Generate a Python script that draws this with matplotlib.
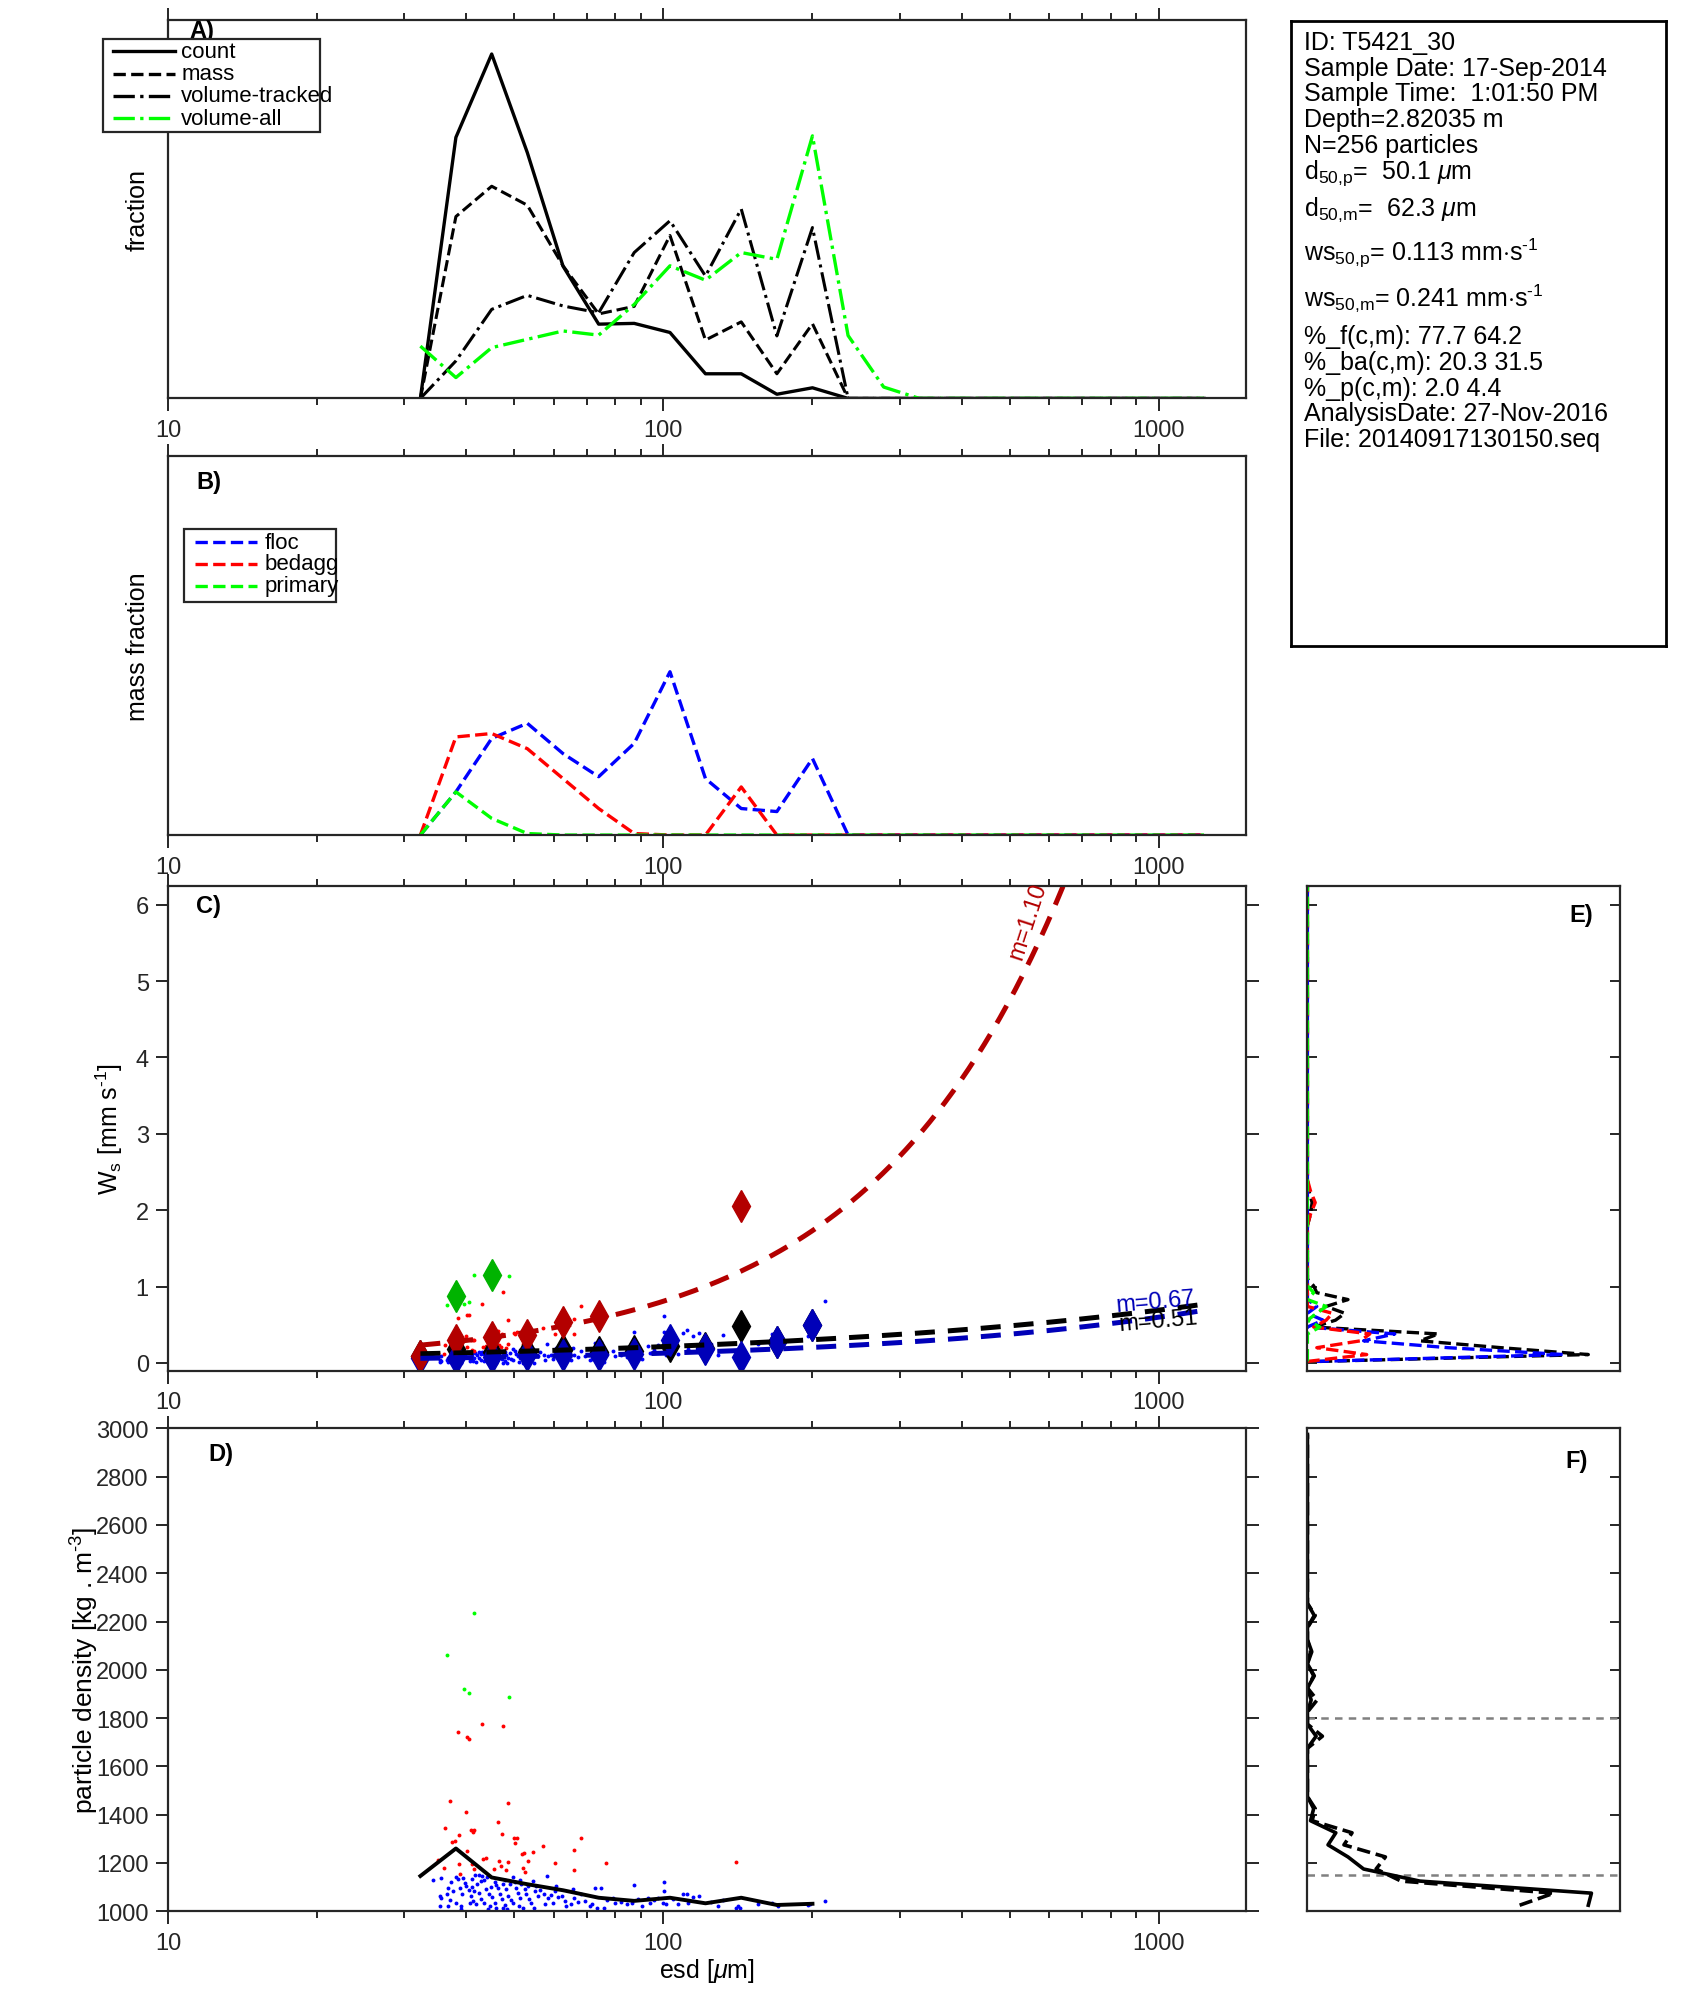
import numpy as np
import matplotlib
matplotlib.use('Agg')
import matplotlib.pyplot as plt
from matplotlib.ticker import FixedLocator, LogLocator, NullFormatter, FuncFormatter

plt.rcParams['font.family'] = ['Liberation Sans', 'DejaVu Sans']
plt.rcParams['font.size'] = 17
plt.rcParams['mathtext.fontset'] = 'custom'
plt.rcParams['mathtext.rm'] = 'Liberation Sans'
plt.rcParams['mathtext.it'] = 'Liberation Sans:italic'
plt.rcParams['mathtext.bf'] = 'Liberation Sans:bold'

# ---- size bins (esd, um) ----
esd_bins = [32.3, 38.1, 45.0, 53.1, 62.7, 74.0, 87.3, 103.1, 121.6, 143.6, 169.5, 200.0,
            236.0, 278.5, 328.6, 387.8, 457.6, 540.0, 637.2, 751.9, 887.2, 1046.9, 1235.3]

# panel A: fractions
frac_count = [0, 0.689, 0.909, 0.649, 0.349, 0.196, 0.198, 0.174, 0.065, 0.065, 0.011, 0.028,
              0, 0, 0, 0, 0, 0, 0, 0, 0, 0, 0]
frac_mass = [0, 0.48, 0.56, 0.51, 0.35, 0.223, 0.243, 0.43, 0.154, 0.202, 0.065, 0.197,
             0, 0, 0, 0, 0, 0, 0, 0, 0, 0, 0]
frac_vol_tracked = [0, 0.099, 0.235, 0.272, 0.244, 0.226, 0.385, 0.469, 0.323, 0.5, 0.165, 0.451,
                    0, 0, 0, 0, 0, 0, 0, 0, 0, 0, 0]
frac_vol_all = [0.138, 0.055, 0.134, 0.156, 0.178, 0.167, 0.248, 0.35, 0.312, 0.385, 0.367, 0.693,
                0.166, 0.03, 0, 0, 0, 0, 0, 0, 0, 0, 0]

# panel B: mass fraction per class
mf_floc = [0, 0.114, 0.255, 0.295, 0.215, 0.154, 0.242, 0.431, 0.149, 0.07, 0.062, 0.202,
           0, 0, 0, 0, 0, 0, 0, 0, 0, 0, 0]
mf_bedagg = [0, 0.259, 0.268, 0.228, 0.149, 0.07, 0.004, 0, 0, 0.127, 0, 0,
             0, 0, 0, 0, 0, 0, 0, 0, 0, 0, 0]
mf_primary = [0, 0.114, 0.044, 0.004, 0, 0, 0, 0, 0, 0, 0, 0,
              0, 0, 0, 0, 0, 0, 0, 0, 0, 0, 0]

# panel C: bin medians of settling velocity (mm/s), first 12 bins
nan = np.nan
ws_med_all = [0.09, 0.18, 0.14, 0.14, 0.17, 0.14, 0.15, 0.22, 0.20, 0.48, 0.27, 0.50]
ws_med_floc = [0.07, 0.07, 0.08, 0.10, 0.10, 0.11, 0.12, 0.30, 0.18, 0.08, 0.27, 0.50]
ws_med_bedagg = [0.09, 0.30, 0.34, 0.37, 0.53, 0.62, nan, nan, nan, 2.06, nan, nan]
ws_med_primary = [nan, 0.88, 1.15, nan, nan, nan, nan, nan, nan, nan, nan, nan]

# power-law fits ws = a * d^m
fit_names = ['bedagg', 'all', 'floc']
fit_a = [0.0051, 0.0204, 0.00585]
fit_m = [1.10, 0.51, 0.67]
fit_dmin, fit_dmax = 32.3, 1210.0

# individual particles: esd (um) and density (kg m-3)
primary_esd = [41.4, 36.5, 39.6, 40.4, 48.8]
primary_rho = [2236, 2063, 1920, 1903, 1886]

bedagg_esd = [38.5, 40.2, 40.4, 43.1, 47.5, 37.0, 48.6, 39.9, 46.4, 36.3, 40.9, 41.3, 41.5, 38.7,
              47.1, 49.9, 50.6, 50.2, 68.3, 37.9, 37.5, 57.1, 66.0, 40.2, 54.6, 52.2, 51.9, 43.2,
              43.8, 46.5, 48.5, 60.5, 76.7, 35.1, 38.6, 41.0, 53.3, 46.9, 48.0, 45.4, 36.1, 52.1,
              52.6, 66.0, 38.9, 41.5, 140.4]
bedagg_rho = [1743, 1720, 1715, 1777, 1766, 1455, 1447, 1412, 1371, 1343, 1336, 1329, 1336, 1317,
              1322, 1302, 1302, 1284, 1303, 1292, 1285, 1271, 1254, 1250, 1246, 1243, 1236, 1216,
              1219, 1209, 1202, 1200, 1200, 1212, 1195, 1195, 1209, 1188, 1171, 1177, 1178, 1181,
              1163, 1171, 1155, 1173, 1206]

floc_esd = [34.3, 35.6, 38.1, 38.4, 39.4, 41.1, 41.7, 42.5, 43.1, 43.5, 49.8, 51.4, 54.6, 58.3,
            60.8, 45.6, 47.4, 72.9, 74.8, 87.1, 100.3, 100.3, 109.6, 111.8, 114.9, 211.9,
            36.7, 36.5, 35.4, 35.5, 37.3, 37.6, 38.8, 39.2, 39.7, 40.4, 41.1, 40.9, 42.1, 42.5,
            42.9, 43.9, 44.4, 44.9, 46.4, 46.7, 47.1, 48.2, 48.6, 48.9, 50.5, 50.9, 51.3, 51.6,
            52.5, 52.9, 53.3, 55.0, 55.8, 55.4, 57.5, 58.5, 59.4, 61.2, 62.4, 63.2, 65.8, 66.1,
            67.3, 69.4, 71.6, 71.0, 79.1, 79.9, 84.4, 86.3, 89.0, 90.6, 93.1, 93.8, 97.5, 99.8,
            101.4, 107.1, 112.2, 128.9, 141.4, 155.2, 197.4,
            35.4, 36.8, 38.2, 39.1, 40.6, 41.9, 43.5, 44.6, 45.6, 47.9, 49.8, 51.0, 54.1, 57.6,
            59.8, 63.6, 65.2, 45.9, 47.4, 52.0, 73.5, 75.7, 140.0, 143.0, 196.0,
            37.0, 39.9, 41.5, 42.8, 44.0, 45.1, 46.0, 47.8, 49.3, 50.2, 53.6, 56.4, 44.2, 39.0,
            41.3, 48.3, 54.9, 60.3, 68.2, 76.8, 82.2, 95.5, 104.6, 118.0, 124.5, 165.7, 170.5, 132.0]
floc_rho = [1130, 1138, 1142, 1133, 1137, 1133, 1151, 1151, 1146, 1128, 1142, 1128, 1124, 1146,
            1105, 1123, 1112, 1098, 1098, 1109, 1121, 1084, 1070, 1073, 1059, 1043,
            1098, 1070, 1063, 1054, 1120, 1084, 1098, 1070, 1119, 1090, 1101, 1063, 1112, 1077,
            1049, 1091, 1070, 1101, 1098, 1073, 1049, 1091, 1063, 1112, 1098, 1077, 1056, 1112,
            1091, 1070, 1105, 1084, 1063, 1105, 1070, 1056, 1067, 1059, 1063, 1043, 1091, 1056,
            1040, 1043, 1029, 1022, 1056, 1036, 1029, 1036, 1049, 1022, 1056, 1036, 1056, 1036,
            1029, 1029, 1036, 1022, 1022, 1029, 1029,
            1022, 1022, 1036, 1022, 1036, 1029, 1036, 1022, 1036, 1026, 1036, 1022, 1036, 1029,
            1036, 1022, 1029, 1013, 1013, 1013, 1013, 1013, 1015, 1015, 1027,
            1045, 1105, 1082, 1125, 1140, 1060, 1108, 1130, 1045, 1120, 1052, 1090, 1010, 1008,
            1044, 1010, 1012, 1085, 1070, 1045, 1040, 1045, 1050, 1062, 1040, 1035, 1020, 1048]

rho_water = 1010.0
g, mu = 9.81, 1.0e-3

# panel D: bin median density (first 12 bins)
rho_med = [1146, 1260, 1140, 1112, 1087, 1056, 1043, 1056, 1033, 1056, 1026, 1031]

# panel E: settling velocity distribution (fraction vs ws)
e_ws = [0.02, 0.11, 0.20, 0.29, 0.38, 0.47, 0.56, 0.65, 0.74, 0.83, 0.92, 1.01, 1.10,
        1.80, 1.95, 2.10, 2.25, 2.40, 6.24]
e_all = [0.04, 0.90, 0.62, 0.36, 0.42, 0.02, 0.09, 0.12, 0.06, 0.13, 0.03, 0.02, 0.0,
         0.0, 0.01, 0.015, 0.005, 0.0, 0.0]
e_floc = [0.03, 0.82, 0.45, 0.18, 0.28, 0.0, 0.05, 0.0, 0.03, 0.0, 0.0, 0.0, 0.0,
          0.0, 0.0, 0.0, 0.0, 0.0, 0.0]
e_bedagg = [0.0, 0.19, 0.03, 0.17, 0.20, 0.02, 0.06, 0.08, 0.0, 0.0, 0.0, 0.0, 0.0,
            0.0, 0.01, 0.025, 0.01, 0.0, 0.0]
e_primary = [0.0, 0.0, 0.0, 0.0, 0.0, 0.04, 0.0, 0.03, 0.06, 0.0, 0.02, 0.0, 0.0,
             0.0, 0.0, 0.0, 0.0, 0.0, 0.0]

# panel F: density distribution
f_rho = [1025, 1075, 1125, 1175, 1225, 1275, 1325, 1375, 1425, 1475, 1525, 1575, 1625, 1675,
         1725, 1775, 1825, 1875, 1925, 1975, 2025, 2075, 2125, 2175, 2225, 2275, 2325, 2375,
         2425, 2475, 2525, 2575, 2625, 2675, 2725, 2775, 2825, 2875, 2925, 2975]
f_count = [0.90, 0.91, 0.36, 0.18, 0.13, 0.066, 0.091, 0.01, 0.02, 0, 0, 0, 0, 0,
           0.028, 0, 0, 0.012, 0, 0.022, 0, 0.014, 0, 0, 0.022, 0, 0, 0,
           0, 0, 0, 0, 0, 0, 0, 0, 0, 0, 0, 0]
f_mass = [0.68, 0.79, 0.30, 0.22, 0.25, 0.117, 0.143, 0.015, 0.025, 0, 0, 0, 0, 0,
          0.048, 0, 0, 0.031, 0, 0.02, 0, 0.01, 0, 0, 0.025, 0, 0, 0,
          0, 0, 0, 0, 0, 0, 0, 0, 0, 0, 0, 0]
f_ref_rho = [1800, 1150]

info_lines = ['ID: T5421_30', 'Sample Date: 17-Sep-2014', 'Sample Time:  1:01:50 PM',
              'Depth=2.82035 m', 'N=256 particles',
              r'd$_{\rm 50{,}p}$=  50.1 $\mu$m', r'd$_{\rm 50{,}m}$=  62.3 $\mu$m',
              r'ws$_{\rm 50{,}p}$= 0.113 mm$\cdot$s$^{\text{-1}}$',
              r'ws$_{\rm 50{,}m}$= 0.241 mm$\cdot$s$^{\text{-1}}$',
              '%_f(c,m): 77.7 64.2', '%_ba(c,m): 20.3 31.5', '%_p(c,m): 2.0 4.4',
              'AnalysisDate: 27-Nov-2016', 'File: 20140917130150.seq']
info_base = [39, 59, 79, 99, 119, 139, 168, 203, 238, 268, 288, 308, 328, 348]

# ---- layout helpers (reference frame as measured) ----
RW, RH = 1319.0, 1569.0


def rect(x0, y0, x1, y1):
    return [x0 / RW, 1 - y1 / RH, (x1 - x0) / RW, (y1 - y0) / RH]


AX_COL = '0.15'
DKRED, DKBLUE, DKGREEN = (0.7, 0, 0), (0, 0, 0.72), (0, 0.7, 0)


def style_box(ax):
    for s in ax.spines.values():
        s.set_color(AX_COL)
        s.set_linewidth(1.6)


def log_x(ax):
    ax.set_xscale('log')
    ax.set_xlim(10, 1500)
    ax.xaxis.set_major_locator(FixedLocator([10, 100, 1000]))
    ax.xaxis.set_minor_locator(LogLocator(base=10, subs=np.arange(2, 10)))
    ax.xaxis.set_major_formatter(FuncFormatter(lambda v, p: '%g' % v))
    ax.xaxis.set_minor_formatter(NullFormatter())
    ax.tick_params(axis='x', which='both', direction='out', top=True, bottom=True,
                   colors=AX_COL, width=1.4, labelsize=17, pad=6)
    ax.tick_params(axis='x', which='major', length=9)
    ax.tick_params(axis='x', which='minor', length=5)


fig = plt.figure(figsize=(16.94, 20.15), dpi=100)

axA = fig.add_axes(rect(131, 16, 970, 311))
axB = fig.add_axes(rect(131, 356, 970, 651))
axC = fig.add_axes(rect(131, 691, 970, 1068))
axD = fig.add_axes(rect(131, 1113, 970, 1489))
axE = fig.add_axes(rect(1018, 691, 1261, 1068))
axF = fig.add_axes(rect(1018, 1113, 1261, 1489))
axT = fig.add_axes(rect(1005, 17, 1297, 504))

for ax in (axA, axB, axC, axD, axE, axF, axT):
    style_box(ax)

# ---- A ----
axA.plot(esd_bins, frac_count, '-', color='k', lw=2.4)
axA.plot(esd_bins, frac_mass, '--', color='k', lw=2.2)
axA.plot(esd_bins, frac_vol_tracked, '-.', color='k', lw=2.2)
axA.plot(esd_bins, frac_vol_all, '-.', color=(0, 1, 0), lw=2.4)
log_x(axA)
axA.set_ylim(0, 1)
axA.set_yticks([])
axA.set_ylabel('fraction', fontsize=18)
axA.yaxis.set_label_coords(-0.017, 0.5)
axA.text(0.02, 0.972, 'A)', transform=axA.transAxes, fontweight='bold', va='center')

# legend A drawn by hand (text runs past the frame as in the original)
leg_styles = [('-', 'k', 'count'), ('--', 'k', 'mass'), ('-.', 'k', 'volume-tracked'),
              ('-.', (0, 1, 0), 'volume-all')]
bx0, bx1, by0, by1 = -0.061, 0.141, 0.702, 0.949
axA.add_patch(plt.Rectangle((bx0, by0), bx1 - bx0, by1 - by0, transform=axA.transAxes,
                            fill=True, facecolor='white', edgecolor=AX_COL, lw=1.6,
                            clip_on=False, zorder=5))
for i, (ls, c, lab) in enumerate(leg_styles):
    yy = 0.916 - i * 0.0587
    axA.plot([-0.051, 0.006], [yy, yy], ls, color=c, lw=2.4, transform=axA.transAxes,
             clip_on=False, zorder=6)
    axA.text(0.012, yy, lab, transform=axA.transAxes, va='center', ha='left', fontsize=16,
             zorder=6)

# ---- B ----
axB.plot(esd_bins, mf_floc, '--', color=(0, 0, 1), lw=2.4)
axB.plot(esd_bins, mf_bedagg, '--', color=(1, 0, 0), lw=2.4)
axB.plot(esd_bins, mf_primary, '--', color=(0, 1, 0), lw=2.4)
log_x(axB)
axB.set_ylim(0, 1)
axB.set_yticks([])
axB.set_ylabel('mass fraction', fontsize=18)
axB.yaxis.set_label_coords(-0.017, 0.5)
axB.text(0.026, 0.932, 'B)', transform=axB.transAxes, fontweight='bold', va='center')

bx0, bx1, by0, by1 = 0.0143, 0.156, 0.614, 0.807
axB.add_patch(plt.Rectangle((bx0, by0), bx1 - bx0, by1 - by0, transform=axB.transAxes,
                            fill=True, facecolor='white', edgecolor=AX_COL, lw=1.6,
                            clip_on=False, zorder=5))
for i, (c, lab) in enumerate([((0, 0, 1), 'floc'), ((1, 0, 0), 'bedagg'), ((0, 1, 0), 'primary')]):
    yy = 0.773 - i * 0.0575
    axB.plot([0.025, 0.082], [yy, yy], '--', color=c, lw=2.4, transform=axB.transAxes,
             clip_on=False, zorder=6)
    axB.text(0.089, yy, lab, transform=axB.transAxes, va='center', ha='left', fontsize=16,
             zorder=6)

# ---- C ----
k_stokes = g / (18 * mu) * 1e-9  # mm/s per (kg m-3 um^2)
for esd, rho, col in ((floc_esd, floc_rho, (0, 0, 1)), (bedagg_esd, bedagg_rho, (1, 0, 0)),
                      (primary_esd, primary_rho, (0, 1, 0))):
    d = np.array(esd)
    ws = k_stokes * (np.array(rho) - rho_water) * d ** 2
    axC.plot(d, ws, 'o', color=col, ms=2.8, mec='none')

bins12 = esd_bins[:12]
for vals, col in ((ws_med_all, 'k'), (ws_med_floc, DKBLUE), (ws_med_bedagg, DKRED),
                  (ws_med_primary, DKGREEN)):
    axC.plot(bins12, vals, 'd', color=col, ms=16, mec=col, ls='none')

dfit = np.logspace(np.log10(fit_dmin), np.log10(fit_dmax), 200)
fit_cols = [DKRED, 'k', DKBLUE]
for a, m, col in zip(fit_a, fit_m, fit_cols):
    axC.plot(dfit, a * dfit ** m, color=col, lw=3.6, ls=(0, (4, 2.6)))

axC.text(545, 5.8, 'm=%.2f' % fit_m[0], color=DKRED, rotation=72, ha='center', va='center')
axC.text(988, 0.81, 'm=%.2f' % fit_m[2], color=DKBLUE, rotation=5, ha='center', va='center')
axC.text(1000, 0.55, 'm=%.2f' % fit_m[1], color='k', rotation=5, ha='center', va='center')

log_x(axC)
axC.set_ylim(-0.1, 6.24)
axC.set_yticks([0, 1, 2, 3, 4, 5, 6])
axC.tick_params(axis='y', direction='out', left=True, right=True, colors=AX_COL,
                width=1.4, length=9, labelsize=17, pad=5)
axC.set_ylabel(r'W$_{\rm s}$ [mm s$^{\text{-1}}$]', fontsize=18)
axC.yaxis.set_label_coords(-0.040, 0.5)
axC.text(0.026, 0.960, 'C)', transform=axC.transAxes, fontweight='bold', va='center')

# ---- D ----
axD.plot(floc_esd, floc_rho, 'o', color=(0, 0, 1), ms=2.8, mec='none')
axD.plot(bedagg_esd, bedagg_rho, 'o', color=(1, 0, 0), ms=2.8, mec='none')
axD.plot(primary_esd, primary_rho, 'o', color=(0, 1, 0), ms=2.8, mec='none')
axD.plot(bins12, rho_med, '-', color='k', lw=2.8)
log_x(axD)
axD.set_ylim(1000, 3000)
axD.set_yticks(np.arange(1000, 3001, 200))
axD.tick_params(axis='y', direction='out', left=True, right=True, colors=AX_COL,
                width=1.4, length=9, labelsize=17, pad=5)
axD.set_ylabel(r'particle density [kg . m$^{\text{-3}}$]', fontsize=19)
axD.yaxis.set_label_coords(-0.062, 0.5)
axD.set_xlabel(r'esd [$\mu$m]', fontsize=18)
axD.xaxis.set_label_coords(0.5, -0.092)
axD.text(0.037, 0.947, 'D)', transform=axD.transAxes, fontweight='bold', va='center')

# ---- E ----
axE.plot(e_all, e_ws, '--', color='k', lw=2.4)
axE.plot(e_floc, e_ws, '--', color=(0, 0, 1), lw=2.4)
axE.plot(e_bedagg, e_ws, '--', color=(1, 0, 0), lw=2.4)
axE.plot(e_primary, e_ws, '--', color=(0, 1, 0), lw=2.4)
axE.set_xlim(0, 1)
axE.set_ylim(-0.1, 6.24)
axE.set_xticks([])
axE.set_yticks([0, 1, 2, 3, 4, 5, 6])
axE.tick_params(axis='y', direction='in', left=True, right=True, labelleft=False,
                colors=AX_COL, width=1.4, length=7)
axE.text(0.84, 0.942, 'E)', transform=axE.transAxes, fontweight='bold', va='center')

# ---- F ----
for r in f_ref_rho:
    axF.axhline(r, color='0.5', lw=1.8, ls=(0, (3, 2.5)))
axF.plot(f_count, f_rho, '-', color='k', lw=2.6)
axF.plot(f_mass, f_rho, '--', color='k', lw=2.6)
axF.set_xlim(0, 1)
axF.set_ylim(1000, 3000)
axF.set_xticks([])
axF.set_yticks(np.arange(1000, 3001, 200))
axF.tick_params(axis='y', direction='in', left=True, right=True, labelleft=False,
                colors=AX_COL, width=1.4, length=7)
axF.text(0.825, 0.934, 'F)', transform=axF.transAxes, fontweight='bold', va='center')

# ---- info box ----
axT.set_xticks([])
axT.set_yticks([])
for s in axT.spines.values():
    s.set_color('k')
    s.set_linewidth(2.0)
for line, b in zip(info_lines, info_base):
    fig.text(1015 / RW, 1 - b / RH, line, ha='left', va='baseline', fontsize=18)

fig.savefig('out.png', dpi=100)
